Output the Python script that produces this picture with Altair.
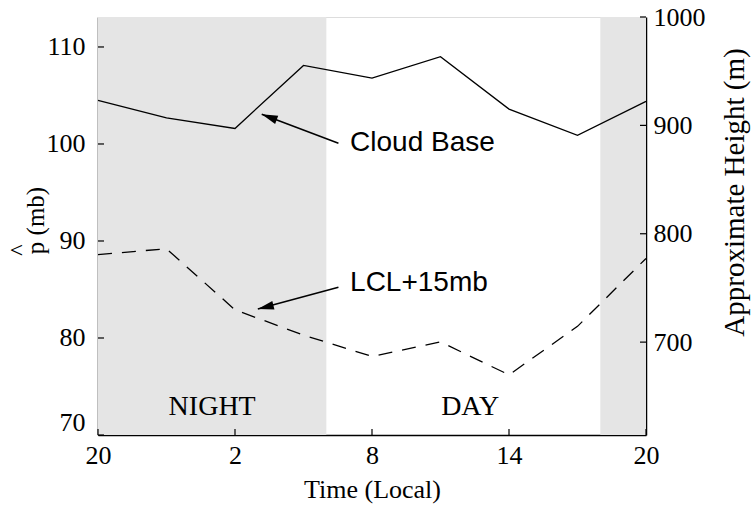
import json
import altair as alt
import pandas as pd

# ---- data ----
hours = [0, 3, 6, 9, 12, 15, 18, 21, 24]          # hours since 20:00 local
cloud_base = [104.5, 102.7, 101.6, 108.1, 106.8, 109.0, 103.6, 100.9, 104.4]
lcl_15 = [88.6, 89.2, 82.9, 80.3, 78.1, 79.6, 76.2, 81.2, 88.2]

night_start = [0, 22]
night_end = [10, 24]

x_tick_vals = [0, 6, 12, 18, 24]
x_tick_labels = ["20", "2", "8", "14", "20"]
p_ticks = [70, 80, 90, 100, 110]
h_ticks = [700, 800, 900, 1000]
p_domain = [70, 113.09]
h_domain = [614.3, 1000]

region_labels = ["NIGHT", "DAY"]
region_x = [5.0, 16.3]
region_y = [72.9, 72.9]

ann_text = ["Cloud Base", "LCL+15mb"]
ann_x = [11.04, 11.04]
ann_y = [100.07, 85.65]
arrow_tail_x = [10.53, 10.53]
arrow_tail_y = [100.07, 85.24]
arrow_tip_x = [7.17, 7.0]
arrow_tip_y = [103.06, 82.98]
arrow_angle = [290.6, 256.3]

SERIF = "Liberation Serif"
SANS = "Liberation Sans"
FS = 26

lines_df = pd.DataFrame({"hour": hours, "cloud": cloud_base, "lcl": lcl_15})
shade_df = pd.DataFrame({"start": night_start, "end": night_end})
region_df = pd.DataFrame({"label": region_labels, "x": region_x, "y": region_y})
ann_df = pd.DataFrame({"label": ann_text, "x": ann_x, "y": ann_y})
arrow_df = pd.DataFrame({"x": arrow_tail_x, "y": arrow_tail_y,
                         "x2": arrow_tip_x, "y2": arrow_tip_y, "angle": arrow_angle})
pt_df = pd.DataFrame({"p": p_ticks})
ht_df = pd.DataFrame({"h": h_ticks})
xt_df = pd.DataFrame({"t": x_tick_vals})
hat_df = pd.DataFrame({"s": ["^"]})

xscale = alt.Scale(domain=[0, 24], nice=False, zero=False)
pscale = alt.Scale(domain=p_domain, nice=False, zero=False)
hscale = alt.Scale(domain=h_domain, nice=False, zero=False)

label_expr = f"{json.dumps(x_tick_labels)}[round(datum.value/6)]"

x_axis = alt.Axis(values=x_tick_vals, labelExpr=label_expr, title="Time (Local)",
                  grid=False, tickSize=0, labelPadding=7, titlePadding=8,
                  labelFont=SERIF, titleFont=SERIF, labelFontSize=FS, titleFontSize=FS,
                  titleFontWeight="normal", labelColor="black", titleColor="black",
                  domainColor="black", domainWidth=1.5, labelFlush=False)

p_axis = alt.Axis(values=p_ticks, title="p (mb)", grid=False, tickSize=0,
                  labelPadding=13, titleX=-50, titleY=203, titleBaseline="bottom",
                  labelFont=SERIF, titleFont=SERIF,
                  labelFontSize=FS, titleFontSize=25, titleFontWeight="normal",
                  labelColor="black", titleColor="black", domainColor="black",
                  domainWidth=1.5, labelFlush=True)

h_axis = alt.Axis(values=h_ticks, format="d", orient="right",
                  title="Approximate Height (m)",
                  grid=False, tickSize=0, labelPadding=7,
                  titleAngle=270, titleBaseline="top", titleX=74, titleY=175,
                  labelFont=SERIF, titleFont=SERIF, labelFontSize=FS, titleFontSize=29,
                  titleFontWeight="normal", labelColor="black", titleColor="black",
                  domainColor="black", domainWidth=1.5, labelFlush=False)

shade = alt.Chart(shade_df).mark_rect(color="#e5e5e5").encode(
    x=alt.X("start:Q", scale=xscale, axis=x_axis),
    x2="end:Q",
)

cloud = alt.Chart(lines_df).mark_line(color="black", strokeWidth=1.3).encode(
    x=alt.X("hour:Q", scale=xscale),
    y=alt.Y("cloud:Q", scale=pscale, axis=p_axis),
)

lcl = alt.Chart(lines_df).mark_line(color="black", strokeWidth=1.3,
                                    strokeDash=[14, 10]).encode(
    x=alt.X("hour:Q", scale=xscale),
    y=alt.Y("lcl:Q", scale=pscale),
)

p_tickmarks = alt.Chart(pt_df).mark_rule(color="black", strokeWidth=1.2).encode(
    y=alt.Y("p:Q", scale=pscale), x=alt.value(0), x2=alt.value(6))

x_tickmarks = alt.Chart(xt_df).mark_rule(color="black", strokeWidth=1.2).encode(
    x=alt.X("t:Q", scale=xscale), y=alt.value(418), y2=alt.value(412))

regions = alt.Chart(region_df).mark_text(font=SERIF, fontSize=28, color="black",
                                         baseline="middle", align="center").encode(
    x=alt.X("x:Q", scale=xscale), y=alt.Y("y:Q", scale=pscale), text="label:N")

ann = alt.Chart(ann_df).mark_text(font=SANS, fontSize=28, color="black",
                                  baseline="middle", align="left").encode(
    x=alt.X("x:Q", scale=xscale), y=alt.Y("y:Q", scale=pscale), text="label:N")

arrow_lines = alt.Chart(arrow_df).mark_rule(color="black", strokeWidth=1.5).encode(
    x=alt.X("x:Q", scale=xscale), y=alt.Y("y:Q", scale=pscale),
    x2="x2:Q", y2="y2:Q")

arrow_heads = alt.Chart(arrow_df).mark_point(
    shape="M0,0 L0.55,2 L-0.55,2 Z", filled=True, color="black", opacity=1,
    size=256, strokeWidth=0).encode(
    x=alt.X("x2:Q", scale=xscale), y=alt.Y("y2:Q", scale=pscale),
    angle=alt.Angle("angle:Q", scale=None))

hat = alt.Chart(hat_df).mark_text(font=SERIF, fontSize=24, color="black",
                                  angle=270, baseline="middle", align="center").encode(
    text="s:N", x=alt.value(-79), y=alt.value(233))

left = alt.layer(shade, cloud, lcl, p_tickmarks, x_tickmarks, regions,
                 arrow_lines, arrow_heads, ann, hat)

right = alt.Chart(ht_df).mark_rule(color="black", strokeWidth=1.2).encode(
    y=alt.Y("h:Q", scale=hscale, axis=h_axis), x=alt.value(548), x2=alt.value(542))

chart = alt.layer(left, right).resolve_scale(y="independent").properties(
    width=548, height=418,
    autosize=alt.AutoSizeParams(type="none"),
    padding={"left": 98, "top": 17, "right": 106, "bottom": 76},
).configure_view(stroke="black", strokeWidth=1.5).configure(background="white")

chart.save("out.html", embed_options={"renderer": "svg", "actions": False})
